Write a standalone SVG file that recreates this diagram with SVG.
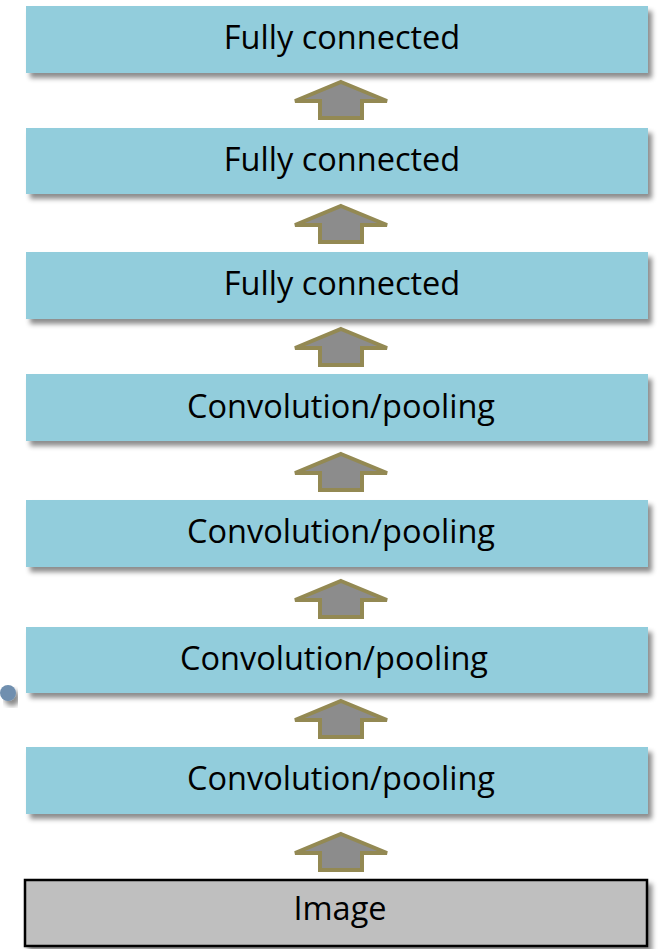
<svg xmlns="http://www.w3.org/2000/svg" width="659" height="949" viewBox="0 0 659 949">
  <defs>
    <filter id="shadow" x="-5%" y="-20%" width="115%" height="160%">
      <feGaussianBlur in="SourceAlpha" stdDeviation="2.5"/>
      <feOffset dx="4" dy="5" result="b"/>
      <feFlood flood-color="#000" flood-opacity="0.45"/>
      <feComposite in2="b" operator="in"/>
      <feMerge><feMergeNode/><feMergeNode in="SourceGraphic"/></feMerge>
    </filter>
    <path id="up" d="M0,0 L46,19 L21,19 L21,36 L-21,36 L-21,19 L-46,19 Z"/>
  </defs>
  <style>
    .layer { fill: #92CDDC; filter: url(#shadow); }
    .input { fill: #BFBFBF; stroke: #000; stroke-width: 2.5; filter: url(#shadow); }
    .label { font-family: "Open Sans", "Liberation Sans", sans-serif; font-size: 32.5px; fill: #000; text-anchor: middle; }
    .arrow { fill: #8C8C8C; stroke: #938953; stroke-width: 4; stroke-linejoin: miter; }
  </style>

  <g id="fc3">
    <rect class="layer" x="26" y="6" width="622" height="67"/>
    <text class="label" x="342" y="49">Fully connected</text>
  </g>
  <g id="fc2">
    <rect class="layer" x="26" y="128" width="622" height="66"/>
    <text class="label" x="342" y="171">Fully connected</text>
  </g>
  <g id="fc1">
    <rect class="layer" x="26" y="252" width="622" height="67"/>
    <text class="label" x="342" y="295">Fully connected</text>
  </g>
  <g id="conv4">
    <rect class="layer" x="26" y="374" width="622" height="67"/>
    <text class="label" x="341" y="418">Convolution/pooling</text>
  </g>
  <g id="conv3">
    <rect class="layer" x="26" y="500" width="622" height="67"/>
    <text class="label" x="341" y="543">Convolution/pooling</text>
  </g>
  <g id="conv2">
    <rect class="layer" x="26" y="627" width="622" height="66"/>
    <text class="label" x="334" y="670">Convolution/pooling</text>
  </g>
  <g id="conv1">
    <rect class="layer" x="26" y="747" width="622" height="67"/>
    <text class="label" x="341" y="790">Convolution/pooling</text>
  </g>
  <g id="image">
    <rect class="input" x="25" y="880" width="622" height="66"/>
    <text class="label" x="340" y="920">Image</text>
  </g>

  <g id="marker-dot">
    <circle cx="8" cy="693" r="8" fill="#6F8FAF" filter="url(#shadow)"/>
  </g>

  <g id="connectors">
    <use href="#up" class="arrow" x="341" y="82"/>
    <use href="#up" class="arrow" x="341" y="206"/>
    <use href="#up" class="arrow" x="341" y="329"/>
    <use href="#up" class="arrow" x="341" y="454"/>
    <use href="#up" class="arrow" x="341" y="581"/>
    <use href="#up" class="arrow" x="341" y="701"/>
    <use href="#up" class="arrow" x="341" y="834"/>
  </g>
</svg>
